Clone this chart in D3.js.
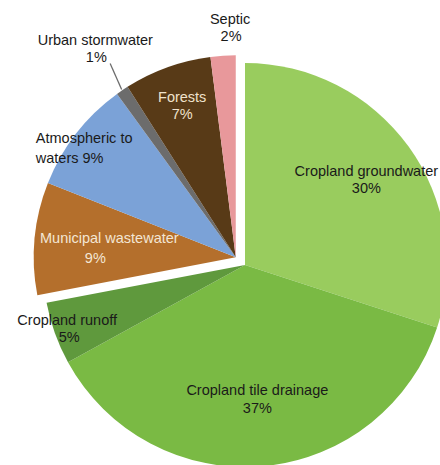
<!DOCTYPE html>
<html>
<head>
<meta charset="utf-8">
<script src="https://cdn.jsdelivr.net/npm/d3@7"></script>
<style>
  body { margin: 0; background: #fff; }
  text { font-family: "Liberation Sans", Arial, sans-serif; font-size: 14.5px; }
</style>
</head>
<body>
<div id="chart"></div>
<script>
// slice data, clockwise from 12 o'clock
const categories = ["Cropland groundwater", "Cropland tile drainage", "Cropland runoff",
  "Municipal wastewater", "Atmospheric to waters", "Urban stormwater", "Forests", "Septic"];
const values = [30, 37, 5, 9, 9, 1, 7, 2];
const groups = ["crop", "crop", "crop", "other", "other", "other", "other", "other"];
const labelLines = [
  ["Cropland groundwater", "30%"],
  ["Cropland tile drainage", "37%"],
  ["Cropland runoff", "5%"],
  ["Municipal wastewater", "9%"],
  ["Atmospheric to", "waters 9%"],
  ["Urban stormwater", "1%"],
  ["Forests", "7%"],
  ["Septic", "2%"]
];

const colors = ["#99cc5e", "#7aba44", "#5f993d", "#b46f2c", "#7ba2d7", "#6c6c6c", "#583a17", "#e8989b"];
const textColors = ["#1a1a1a", "#1a1a1a", "#1a1a1a", "#f3e6d4", "#1a1a1a", "#1a1a1a", "#f0e2cc", "#1a1a1a"];
// label placement: radius along the slice mid angle, nudges, line gap
const labelR = [150, 131, 189, 127, 186, 257, 164, 234];
const labelDx = [0, 0, 0, 0, -53, 4, 2, 9];
const labelDy = [-1, 0, -4, -2, 0, 0, -1, 0];
const lineGap = [17, 18, 17, 20, 20, 17, 17, 17];
const line2Dx = [0, 0, 2, -14, 0, 1, 0, 1];
const anchors = ["middle", "middle", "middle", "middle", "start", "middle", "middle", "middle"];

const w = 440, h = 465;
const R = 202;
const cx = 245, cy = 265;   // centre of the crop wedge
const explode = 12;

const svg = d3.select("#chart").append("svg")
  .attr("width", w)
  .attr("height", h);

const pie = d3.pie().sort(null).value(d => d)(values);
const arc = d3.arc().innerRadius(0).outerRadius(R);

// offset of the exploded (non-crop) group along its bisector
const other = pie.filter((d, i) => groups[i] == "other");
const midOther = (other[0].startAngle + other[other.length - 1].endAngle) / 2;
const ox = explode * Math.sin(midOther), oy = -explode * Math.cos(midOther);

function center(i) {
  return groups[i] == "other" ? [cx + ox, cy + oy] : [cx, cy];
}

svg.selectAll("path.slice")
  .data(pie)
  .enter()
  .append("path")
  .attr("class", "slice")
  .attr("d", arc)
  .attr("fill", (d, i) => colors[i])
  .attr("transform", (d, i) => "translate(" + center(i) + ")");

// leader line for the small urban stormwater slice
const ui = categories.indexOf("Urban stormwater");
const ua = (pie[ui].startAngle + pie[ui].endAngle) / 2;
const uc = center(ui);
svg.append("line")
  .attr("x1", uc[0] + (R + 1) * Math.sin(ua))
  .attr("y1", uc[1] - (R + 1) * Math.cos(ua))
  .attr("x2", uc[0] + (R + 29) * Math.sin(ua + 0.022))
  .attr("y2", uc[1] - (R + 29) * Math.cos(ua + 0.022))
  .attr("stroke", "#6c6c6c")
  .attr("stroke-width", 1.3);

const labels = svg.selectAll("g.label")
  .data(pie)
  .enter()
  .append("g")
  .attr("class", "label")
  .attr("transform", (d, i) => {
    const a = (d.startAngle + d.endAngle) / 2;
    const c = center(i);
    const x = c[0] + labelR[i] * Math.sin(a) + labelDx[i];
    const y = c[1] - labelR[i] * Math.cos(a) + labelDy[i];
    return "translate(" + x + "," + y + ")";
  });

labels.selectAll("text")
  .data((d, i) => labelLines[i].map(t => ({ t: t, i: i })))
  .enter()
  .append("text")
  .attr("x", (d, j) => j == 0 ? 0 : line2Dx[d.i])
  .attr("y", (d, j) => j == 0 ? 0 : lineGap[d.i])
  .attr("text-anchor", d => anchors[d.i])
  .attr("fill", d => textColors[d.i])
  .text(d => d.t);
</script>
</body>
</html>
